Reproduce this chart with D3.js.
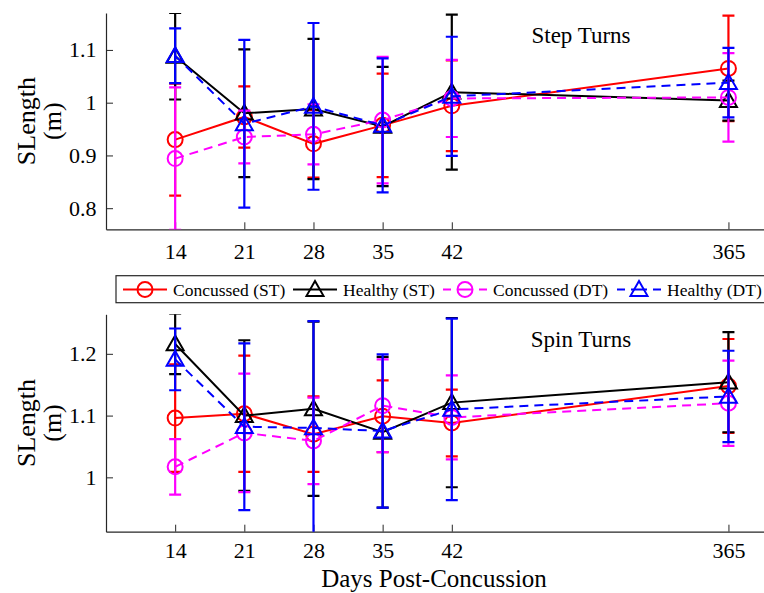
<!DOCTYPE html>
<html><head><meta charset="utf-8">
<script src="https://cdn.jsdelivr.net/npm/d3@7"></script>
<style>body{margin:0;background:#fff}svg{display:block}</style>
</head><body>
<script>
// ---- data ----
const dayLabels = ["14","21","28","35","42","365"];
const dayPos = [14,21,28,35,42,70];
const seriesNames = ["Concussed (ST)","Healthy (ST)","Concussed (DT)","Healthy (DT)"];
const seriesColors = ["#ff0000","#000000","#ff00ff","#0000ff"];
const seriesMarkers = ["circle","triangle","circle","triangle"];
const seriesDashed = [false,false,true,true];

const stepConcST = [0.930,0.973,0.922,0.957,0.994,1.065];
const stepConcSTErr = [0.106,0.058,0.064,0.098,0.086,0.100];
const stepHealST = [1.088,0.980,0.988,0.955,1.020,1.004];
const stepHealSTErr = [0.082,0.121,0.133,0.113,0.147,0.038];
const stepConcDT = [0.894,0.935,0.940,0.967,1.008,1.010];
const stepConcDTErr = [0.135,0.050,0.057,0.120,0.073,0.084];
const stepHealDT = [1.089,0.960,0.993,0.957,1.012,1.038];
const stepHealDTErr = [0.052,0.159,0.158,0.127,0.113,0.066];

const spinConcST = [1.096,1.103,1.070,1.099,1.088,1.148];
const spinConcSTErr = [0.087,0.094,0.061,0.058,0.054,0.076];
const spinHealST = [1.216,1.100,1.111,1.073,1.121,1.154];
const spinHealSTErr = [0.049,0.122,0.141,0.122,0.137,0.081];
const spinConcDT = [1.017,1.072,1.059,1.116,1.097,1.120];
const spinConcDTErr = [0.045,0.096,0.070,0.075,0.068,0.069];
const spinHealDT = [1.191,1.082,1.080,1.075,1.110,1.131];
const spinHealDTErr = [0.050,0.135,0.173,0.124,0.147,0.074];

const stepTicks = [0.8,0.9,1.0,1.1];
const spinTicks = [1.0,1.1,1.2];

// ---- layout ----
const W = 764, H = 593;
const FONT = "'Liberation Serif','Times New Roman',serif";
const AX = "#262626";
const svg = d3.select("body").append("svg").attr("width",W).attr("height",H);

const x = d3.scaleLinear().domain([7,77]).range([106, 106 + 70*9.88]);

const panels = [
  {title:"Step Turns", yDomain:[0.76,1.17], yRange:[229.3,13], ticks:stepTicks, fmt:v=>v===1?"1":d3.format(".1f")(v),
   means:[stepConcST,stepHealST,stepConcDT,stepHealDT], errs:[stepConcSTErr,stepHealSTErr,stepConcDTErr,stepHealDTErr], titleY:43, tickY:14},
  {title:"Spin Turns", yDomain:[0.912,1.264], yRange:[531.7,314.3], ticks:spinTicks, fmt:v=>v===1?"1":d3.format(".1f")(v),
   means:[spinConcST,spinHealST,spinConcDT,spinHealDT], errs:[spinConcSTErr,spinHealSTErr,spinConcDTErr,spinHealDTErr], titleY:347, tickY:11}
];

function marker(g, type, cx, cy, color){
  if(type==="circle"){
    g.append("circle").attr("cx",cx).attr("cy",cy).attr("r",7.5)
      .attr("fill","none").attr("stroke",color).attr("stroke-width",2);
  } else {
    const s = 8.5;
    g.append("path").attr("d",`M${cx},${cy-s}L${cx+s},${cy+s*0.75}L${cx-s},${cy+s*0.75}Z`)
      .attr("fill","none").attr("stroke",color).attr("stroke-width",2).attr("stroke-linejoin","miter");
  }
}

panels.forEach((p,pi)=>{
  const y = d3.scaleLinear().domain(p.yDomain).range(p.yRange);
  const g = svg.append("g");
  const clipId = "clip"+pi;
  svg.append("clipPath").attr("id",clipId).append("rect")
    .attr("x",106).attr("y",p.yRange[1]).attr("width",W-106).attr("height",p.yRange[0]-p.yRange[1]);

  // axes
  const xAxis = d3.axisBottom(x).tickValues(dayPos).tickFormat((d,i)=>dayLabels[i]).tickSizeInner(-7).tickSizeOuter(0).tickPadding(14);
  const xg = g.append("g").attr("transform",`translate(0,${p.yRange[0]})`).call(xAxis);
  const yAxis = d3.axisLeft(y).tickValues(p.ticks).tickFormat(p.fmt).tickSizeInner(-7).tickSizeOuter(0).tickPadding(9);
  const yg = g.append("g").attr("transform",`translate(106,0)`).call(yAxis);
  [xg,yg].forEach(a=>{
    a.attr("font-family",null);
    a.select(".domain").attr("stroke",AX).attr("stroke-width",1.2);
    a.selectAll(".tick line").attr("stroke",AX).attr("stroke-width",1);
    a.selectAll(".tick text").attr("fill","#000").style("font-family",FONT).style("font-size","22px");
  });
  yg.selectAll(".tick text").attr("x",-9.5);
  xg.selectAll(".tick text").attr("dy","0.71em").attr("y",p.tickY);

  // y label
  const cy = (p.yRange[0]+p.yRange[1])/2;
  const yl = g.append("text").attr("transform",`translate(0,${cy}) rotate(-90)`)
    .attr("text-anchor","middle").style("font-family",FONT).style("font-size","26px").attr("fill","#000");
  yl.append("tspan").attr("x",0).attr("y",35).text("SLength");
  yl.append("tspan").attr("x",0).attr("y",61).text("(m)");

  // title
  g.append("text").attr("x",581).attr("y",p.titleY).attr("text-anchor","middle")
    .style("font-family",FONT).style("font-size","23px").attr("fill","#000").text(p.title);

  // series
  const plot = g.append("g").attr("clip-path",`url(#${clipId})`);
  p.means.forEach((m,si)=>{
    const color = seriesColors[si];
    const sg = plot.append("g");
    const pts = m.map((v,i)=>[x(dayPos[i]), y(v)]);
    sg.append("path").attr("d",d3.line()(pts)).attr("fill","none").attr("stroke",color)
      .attr("stroke-width",2).attr("stroke-dasharray",seriesDashed[si]?"9,6":null);
    m.forEach((v,i)=>{
      const e = p.errs[si][i];
      const px = x(dayPos[i]);
      const y1 = y(v+e), y2 = y(v-e);
      sg.append("line").attr("x1",px).attr("x2",px).attr("y1",y1).attr("y2",y2).attr("stroke",color).attr("stroke-width",2.2);
      [y1,y2].forEach(yy=>sg.append("line").attr("x1",px-6).attr("x2",px+6).attr("y1",yy).attr("y2",yy).attr("stroke",color).attr("stroke-width",2.2));
    });
    m.forEach((v,i)=>marker(sg, seriesMarkers[si], x(dayPos[i]), y(v), color));
  });
});

// x label
svg.append("text").attr("x",434).attr("y",587).attr("text-anchor","middle")
  .style("font-family",FONT).style("font-size","25px").attr("fill","#000").text("Days Post-Concussion");

// legend
const lg = svg.append("g");
lg.append("rect").attr("x",116).attr("y",275.7).attr("width",700).attr("height",27)
  .attr("fill","#fff").attr("stroke",AX).attr("stroke-width",1.2);
const legX = [123, 293, 443, 617];
seriesNames.forEach((name,si)=>{
  const x0 = legX[si], ly = 289.5, color = seriesColors[si];
  const gg = lg.append("g");
  gg.append("line").attr("x1",x0).attr("x2",x0+44).attr("y1",ly).attr("y2",ly).attr("stroke",color)
    .attr("stroke-width",2).attr("stroke-dasharray",seriesDashed[si]?"8,6,16,6,8":null);
  marker(gg, seriesMarkers[si], x0+22, ly, color);
  gg.append("text").attr("x",x0+50).attr("y",ly+6).style("font-family",FONT).style("font-size","17.5px")
    .attr("fill","#000").text(name);
});
</script>
</body></html>
